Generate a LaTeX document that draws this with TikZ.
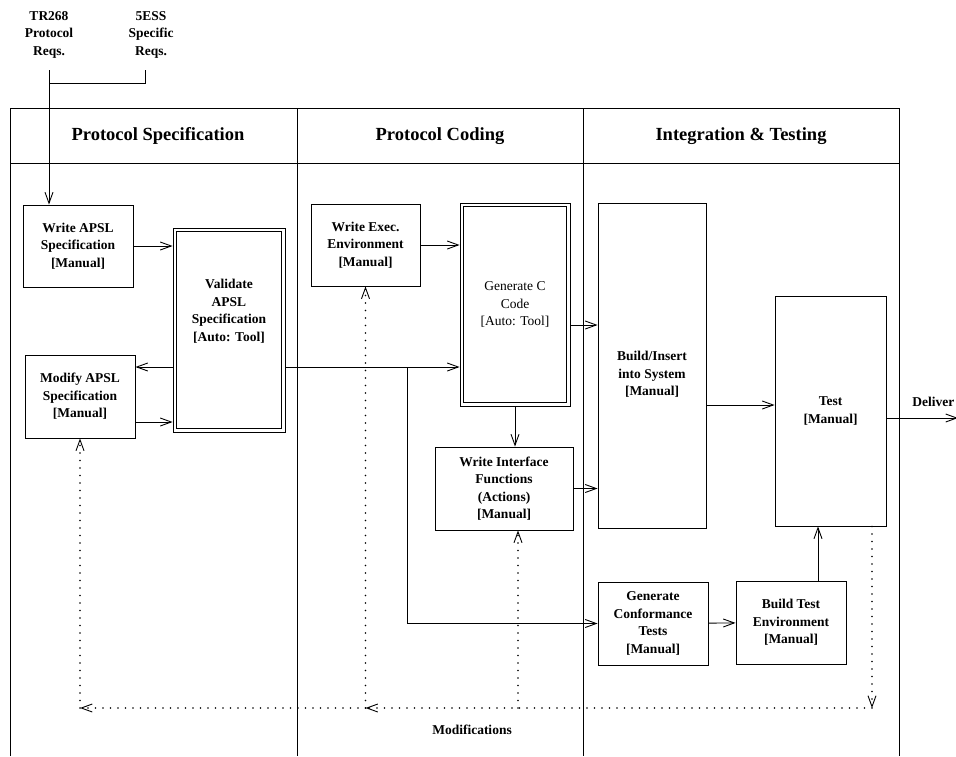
\documentclass[tikz,border=0pt]{standalone}
\usepackage{fontspec}
\setmainfont{Liberation Serif}
\usetikzlibrary{arrows.meta}
\begin{document}
\begin{tikzpicture}[x=1pt,y=-1pt,line width=.9pt,>={Straight Barb[length=11pt,width=8pt]},
  txt/.style={align=center,inner sep=1pt,font=\fontsize{13.5}{17.5}\selectfont\bfseries},
  box/.style={txt,draw,inner sep=2pt},
  reg/.style={font=\fontsize{13.5}{17.5}\selectfont},
  dbl/.style={path picture={\draw ([shift={(3.5pt,-3.5pt)}]path picture bounding box.north west)
    rectangle ([shift={(-3.5pt,3.5pt)}]path picture bounding box.south east);}},
  lane/.style={font=\fontsize{18.5}{20}\selectfont\bfseries},
  mod/.style={dash pattern=on 0pt off 7.5pt,line cap=round,line width=1.8pt,
    >={Straight Barb[length=11pt,width=8pt,line width=.9pt]}}]
\useasboundingbox (0,0) rectangle (956,756);
\draw (10,756)--(10,108)--(899,108)--(899,756);\draw (10,163)--(899,163);
\draw (297,108)--(297,756);\draw (583,108)--(583,756);
\node[lane] (ps) at (158,136) {Protocol Specification};
\node[lane] (pc) at (440,136) {Protocol Coding};
\node[lane] (it) at (741,136) {Integration \& Testing};
\node[txt] (tr) at (49,34.5) {TR268\\Protocol\\Reqs.};
\node[txt] (es) at (151,34.5) {5ESS\\Specific\\Reqs.};
\node[box,minimum width=110pt,minimum height=82pt] (wapsl) at (78,246) {Write APSL\\Specification\\{[Manual]}};
\node[box,dbl,minimum width=112pt,minimum height=204pt,
  label={[txt,yshift=19pt]center:{Validate\\APSL\\Specification\\{[Auto: Tool]}}}] (valid) at (229,330) {};
\node[box,minimum width=110pt,minimum height=83pt] (mapsl) at (80,396.5) {Modify APSL\\Specification\\{[Manual]}};
\node[box,minimum width=109pt,minimum height=82pt] (wexec) at (365.5,245) {Write Exec.\\Environment\\{[Manual]}};
\node[box,dbl,reg,minimum width=110pt,minimum height=203pt] (genc) at (515,304.5) {Generate C\\Code\\{[Auto: Tool]}};
\node[box,minimum width=138pt,minimum height=83pt] (wif) at (504,488.5) {Write Interface\\Functions\\(Actions)\\{[Manual]}};
\node[box,minimum width=108pt,minimum height=325pt,
  label={[txt,yshift=-9pt]center:{Build/Insert\\into System\\{[Manual]}}}] (build) at (652,365.5) {};
\node[box,minimum width=111pt,minimum height=230pt] (test) at (830.5,411) {Test\\{[Manual]}};
\node[box,minimum width=110pt,minimum height=83pt] (gct) at (653,623.5) {Generate\\Conformance\\Tests\\{[Manual]}};
\node[box,minimum width=110pt,minimum height=83pt] (bte) at (791,622.5) {Build Test\\Environment\\{[Manual]}};
\node[txt,anchor=west] (dl) at (911,402) {Deliver};
\node[txt] (modl) at (472,730) {Modifications};
\coordinate (trin) at (49,70);\coordinate (esin) at (145,70);
\draw[->] (trin)--(trin |- wapsl.north);\draw (esin)--++(0,13)-|(trin);
\draw[->] (wapsl)--(valid.west |- wapsl);
\draw[->] (valid.west |- 0,367)--(mapsl.east |- 0,367);
\draw[->] (mapsl.east |- 0,422)--(valid.west |- 0,422);
\coordinate (br) at (407,367);
\draw (valid.east |- br)--(br);\draw[->] (br)--(genc.west |- br);\draw[->] (br)|-(gct.west);
\draw[->] (wexec)--(genc.west |- wexec);
\draw[->] (genc.east |- 0,325)--(build.west |- 0,325);
\draw[->] (genc)--(genc |- wif.north);
\draw[->] (wif)--(build.west |- wif);
\draw[->] (build.east |- 0,405)--(test.west |- 0,405);
\draw[->] (gct)--(bte);
\coordinate (bten) at ([xshift=27pt]bte.north);
\draw[->] (bten)--(bten |- test.south);
\coordinate (dlv) at (958,418);
\draw[->] (test.east |- dlv)--(dlv);
\coordinate (mr) at (872,708);\coordinate (mm) at (wexec.south |- mr);\coordinate (ml) at (mapsl.south |- mr);
\coordinate (wifd) at ([xshift=14pt]wif.south);
\draw[mod,->] (test.south -| mr)--(mr);
\draw[mod,->] (mr)--(mm);\draw[mod,->] (mm)--(ml);
\draw[mod,->] (ml)--(mapsl.south);\draw[mod,->] (mm)--(wexec.south);
\draw[mod,->] (wifd |- mr)--(wifd);
\end{tikzpicture}
\end{document}
